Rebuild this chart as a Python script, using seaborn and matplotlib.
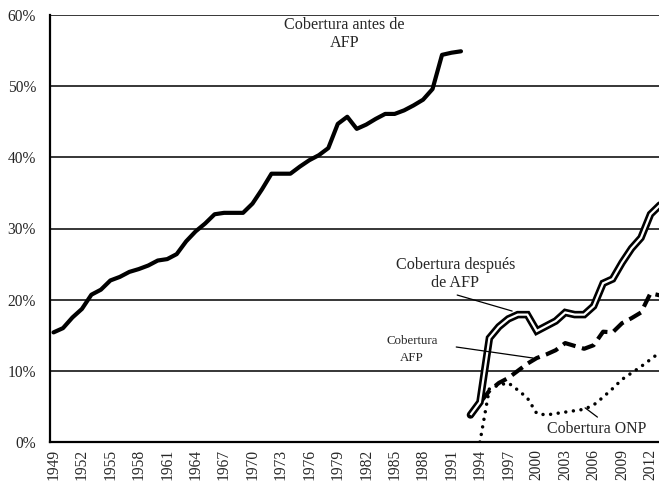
import matplotlib
matplotlib.use("Agg")
import matplotlib.pyplot as plt
import seaborn as sns
import pandas as pd

# ---- data (percent) ----
years_antes = list(range(1949, 1993))
cob_antes = [15.4, 16.0, 17.5, 18.7, 20.7, 21.4, 22.7, 23.2, 23.9, 24.3,
             24.8, 25.5, 25.7, 26.4, 28.2, 29.6, 30.7, 32.0, 32.2, 32.2,
             32.2, 33.5, 35.5, 37.7, 37.7, 37.7, 38.7, 39.6, 40.3, 41.3,
             44.7, 45.7, 44.0, 44.6, 45.4, 46.1, 46.1, 46.6, 47.3, 48.1,
             49.6, 54.4, 54.7, 54.9]

years_desp = list(range(1993, 2014))
cob_desp = [3.8, 5.6, 14.6, 16.2, 17.3, 17.9, 17.9, 15.6, 16.3, 17.0,
            18.2, 17.9, 17.9, 19.1, 22.3, 22.9, 25.2, 27.2, 28.7, 32.0, 33.3]

years_afp = list(range(1993, 2014))
cob_afp = [3.5, 5.5, 7.2, 8.3, 9.0, 10.0, 11.0, 11.8, 12.3, 12.9,
           13.9, 13.5, 13.1, 13.6, 15.5, 15.4, 16.7, 17.4, 18.2, 20.9, 20.6]

years_onp = list(range(1994, 2014))
cob_onp = [0.0, 7.5, 8.0, 8.3, 7.3, 6.2, 4.0, 3.8, 4.0, 4.2,
           4.4, 4.6, 5.2, 6.3, 7.5, 8.8, 9.7, 10.6, 11.6, 12.6]

tick_years = list(range(1949, 2013, 3))
ytick_vals = [0, 10, 20, 30, 40, 50, 60]

# ---- style ----
sns.set_style("white")
plt.rcParams['font.family'] = ['Liberation Serif', 'DejaVu Serif']

fig = plt.figure(figsize=(6.59, 4.84), dpi=100)
ax = fig.add_axes([50/659, 42/484, 615/659, 427/484])

df_antes = pd.DataFrame({"year": years_antes, "v": cob_antes})
df_desp = pd.DataFrame({"year": years_desp, "v": cob_desp})
df_afp = pd.DataFrame({"year": years_afp, "v": cob_afp})
df_onp = pd.DataFrame({"year": years_onp, "v": cob_onp})

for yv in ytick_vals[1:]:
    ax.axhline(yv, color="black", lw=1.1, zorder=1)

sns.lineplot(data=df_antes, x="year", y="v", ax=ax, color="black", lw=3.0,
             solid_capstyle="round", solid_joinstyle="round", zorder=3)
# ONP dotted
sns.lineplot(data=df_onp, x="year", y="v", ax=ax, color="black", lw=2.5, zorder=3)
ax.lines[-1].set_linestyle((0, (0.01, 2.2)))
ax.lines[-1].set_dash_capstyle("round")
# AFP dashed
sns.lineplot(data=df_afp, x="year", y="v", ax=ax, color="black", lw=3.0, zorder=3)
ax.lines[-1].set_linestyle((0, (3.2, 1.6)))
# double line
sns.lineplot(data=df_desp, x="year", y="v", ax=ax, color="black", lw=5.4,
             solid_capstyle="round", solid_joinstyle="miter", zorder=4)
sns.lineplot(data=df_desp, x="year", y="v", ax=ax, color="white", lw=1.6,
             solid_capstyle="butt", solid_joinstyle="miter", zorder=5)

ax.set_xlim(1948.63, 1948.63 + 615/9.476)
ax.set_ylim(0, 60)
ax.set_xticks(tick_years)
ax.set_xticklabels([str(y) for y in tick_years], rotation=90, fontsize=11.2)
ax.set_yticks(ytick_vals)
ax.set_yticklabels([f"{v}%" for v in ytick_vals], fontsize=11.2)
ax.tick_params(axis="both", length=0)
ax.tick_params(axis="y", pad=10)
ax.tick_params(axis="x", pad=5)
ax.set_xlabel("")
ax.set_ylabel("")
for s in ["top", "right"]:
    ax.spines[s].set_visible(False)
for s in ["left", "bottom"]:
    ax.spines[s].set_color("black")
    ax.spines[s].set_linewidth(1.6)
    ax.spines[s].set_zorder(6)

# annotations
ax.text(1979.7, 57.3, "Cobertura antes de\nAFP", ha="center", va="center",
        fontsize=11.6, multialignment="center", linespacing=1.15)
ax.text(1991.4, 23.6, "Cobertura después\nde AFP", ha="center", va="center",
        fontsize=11.6, multialignment="center", linespacing=1.15)
ax.plot([1991.6, 1997.4], [20.65, 18.4], color="black", lw=0.9, zorder=6)
ax.text(1986.8, 13.0, "Cobertura\nAFP", ha="center", va="center",
        fontsize=9.3, multialignment="center", linespacing=1.55)
ax.plot([1991.5, 1999.6], [13.35, 11.8], color="black", lw=0.9, zorder=6)
ax.text(2006.3, 1.8, "Cobertura ONP", ha="center", va="center", fontsize=11.4)
ax.plot([2005.1, 2006.4], [4.8, 3.5], color="black", lw=0.9, zorder=6)

fig.savefig("out.png", dpi=100)
